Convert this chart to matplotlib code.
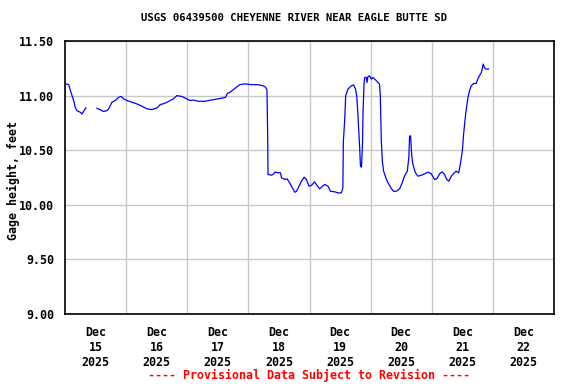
import numpy as np
import matplotlib
matplotlib.use("Agg")
import matplotlib.pyplot as plt

# hours since Dec 15 2025 00:00, and gage height (ft); NaN marks data gap
hours = [0.0, 1.45, 2.1, 2.75, 3.4, 4.0, 4.7, 6.0, 6.7, 7.3, 8.2, 10.0,
         12.55, 13.85, 15.2, 16.5, 17.1, 17.8, 18.4, 19.7, 21.1, 22.1, 23.0, 24.3,
         26.3, 28.2, 30.2, 32.2, 34.1, 36.1, 37.4, 39.3, 41.3, 42.6, 43.9, 45.9,
         47.8, 49.1, 50.3, 52.3, 54.9, 57.5, 60.1, 62.1, 63.0, 63.8, 64.7, 66.0,
         67.3, 68.6, 70.6, 73.2, 75.8, 77.8, 78.7, 79.3, 79.6, 79.7, 81.1, 82.0,
         82.4, 83.7, 84.6, 85.0, 86.3, 87.2, 88.2, 89.3, 90.2, 90.9, 91.9, 92.8,
         93.9, 94.8, 95.8, 96.8, 98.0, 98.9, 100.0, 101.1, 102.0, 103.3, 104.2,
         105.9, 107.2, 108.5, 109.1, 109.3, 109.8, 110.2, 111.1, 112.4, 113.3,
         114.1, 114.6, 115.0, 115.7, 116.0, 116.4, 116.8, 117.0, 117.4, 117.7,
         118.3, 118.6, 118.9, 119.6, 120.3, 120.9, 122.0, 122.9, 123.5, 123.8,
         124.2, 124.6, 125.1, 126.2, 127.2, 128.1, 129.0, 130.1, 131.4, 132.4,
         133.3, 134.4, 135.0, 135.3, 135.7, 136.1, 136.6, 137.6, 138.6, 139.9,
         141.2, 142.5, 143.8, 145.1, 146.0, 147.1, 148.1, 149.0, 149.9, 150.7,
         151.7, 152.6, 153.6, 154.6, 155.2, 156.0, 156.5, 157.3, 158.2, 158.8,
         159.5, 160.4, 161.4, 162.1, 162.7, 163.5, 164.2, 164.8, 165.4, 166.3]
gage_ft = [11.11, 11.10, 11.047, 11.00, 10.955, 10.893, 10.863, 10.847, 10.832, 10.857, 10.887, np.nan,
           10.884, 10.869, 10.854, 10.863, 10.878, 10.909, 10.939, 10.955, 10.985, 10.992, 10.970, 10.955,
           10.939, 10.924, 10.903, 10.878, 10.872, 10.887, 10.918, 10.930, 10.955, 10.970, 11.00, 10.992,
           10.970, 10.955, 10.96, 10.948, 10.948, 10.96, 10.97, 10.979, 10.985, 11.02, 11.03, 11.052,
           11.077, 11.10, 11.107, 11.10, 11.10, 11.09, 11.077, 11.052, 10.60, 10.278, 10.271, 10.284,
           10.30, 10.293, 10.293, 10.247, 10.232, 10.238, 10.201, 10.155, 10.115, 10.124, 10.17, 10.216,
           10.253, 10.232, 10.17, 10.179, 10.21, 10.179, 10.146, 10.17, 10.186, 10.17, 10.124,
           10.119, 10.109, 10.109, 10.155, 10.584, 10.767, 10.997, 11.059, 11.089, 11.098,
           11.059, 10.982, 10.829, 10.523, 10.354, 10.345, 10.553, 10.829, 11.105, 11.166,
           11.166, 11.12, 11.172, 11.181, 11.151, 11.166, 11.142, 11.12, 11.105, 10.997,
           10.584, 10.40, 10.308, 10.232, 10.186, 10.149, 10.124, 10.124, 10.146, 10.201,
           10.262, 10.308, 10.431, 10.63, 10.63, 10.461, 10.37, 10.293, 10.262, 10.271,
           10.284, 10.299, 10.284, 10.232, 10.238, 10.284, 10.302, 10.278, 10.232, 10.216,
           10.262, 10.287, 10.308, 10.293, 10.37, 10.492, 10.645, 10.829, 10.982, 11.043,
           11.089, 11.111, 11.111, 11.151, 11.181, 11.212, 11.289, 11.252, 11.243, 11.243]

day_labels = ["Dec\n15\n2025", "Dec\n16\n2025", "Dec\n17\n2025", "Dec\n18\n2025",
              "Dec\n19\n2025", "Dec\n20\n2025", "Dec\n21\n2025", "Dec\n22\n2025"]
y_ticks = [9.0, 9.5, 10.0, 10.5, 11.0, 11.5]
y_labels = ["9.00", "9.50", "10.00", "10.50", "11.00", "11.50"]

title = "USGS 06439500 CHEYENNE RIVER NEAR EAGLE BUTTE SD"
footer = "---- Provisional Data Subject to Revision ----"
y_title = "Gage height, feet"

mono = "DejaVu Sans Mono"
fig = plt.figure(figsize=(5.76, 3.84), dpi=100)
ax = fig.add_axes([65/576, 1 - 314/384, (554-65)/576, (314-41)/384])

x_days = np.array(hours) / 24.0
ax.plot(x_days, gage_ft, color="#0000ff", lw=0.9)

ax.set_xlim(0, 8)
ax.set_ylim(9.0, 11.5)
ax.set_xticks(np.arange(1, 8))
ax.set_xticks(np.arange(0.5, 8, 1.0), minor=True)
ax.set_xticklabels([])
ax.set_xticklabels(day_labels, minor=True, fontfamily=mono, fontweight="bold", fontsize=8.4,
                   linespacing=1.15)
ax.set_yticks(y_ticks)
ax.set_yticklabels(y_labels, fontfamily=mono, fontweight="bold", fontsize=8.4)
ax.tick_params(axis="both", which="both", length=0)
ax.tick_params(axis="x", which="minor", pad=9)
ax.tick_params(axis="y", pad=8)
ax.grid(True, which="major", color="#c8c8c8", lw=1.0)
ax.set_axisbelow(True)
for s in ax.spines.values():
    s.set_linewidth(1.2)
    s.set_color("black")

fig.text(13/576, 1 - 180/384, y_title, rotation=90, ha="center", va="center",
         fontfamily=mono, fontweight="bold", fontsize=8.4)
fig.text(294/576, 1 - 18/384, title, ha="center", va="center", fontfamily=mono,
         fontweight="bold", fontsize=7.7)
fig.text(309/576, 1 - 375/384, footer, ha="center", va="center", fontfamily=mono,
         fontweight="bold", fontsize=8.4, color="red")

fig.savefig("out.png", dpi=100)
